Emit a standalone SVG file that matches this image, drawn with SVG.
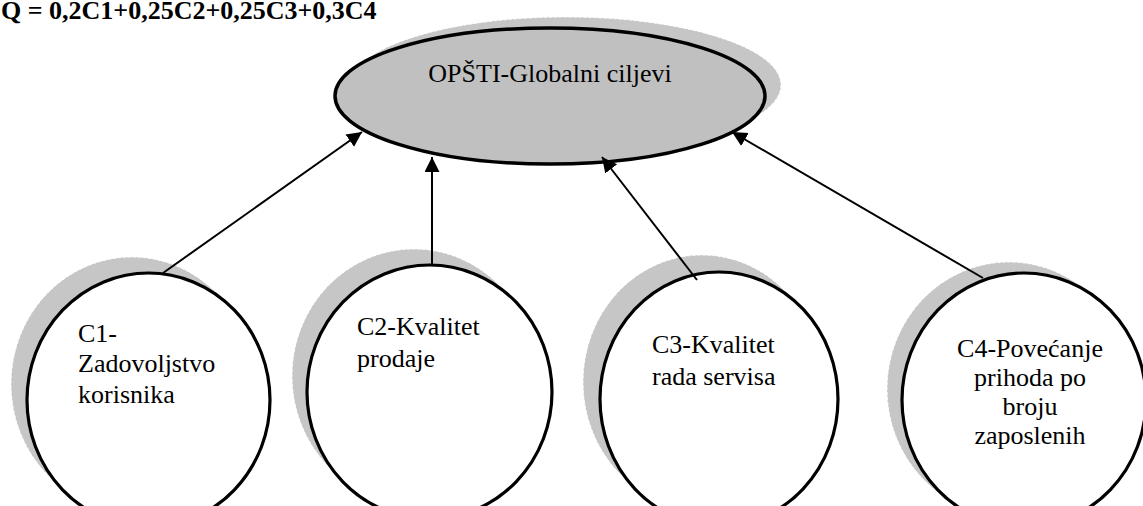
<svg xmlns="http://www.w3.org/2000/svg" width="1143" height="506" viewBox="0 0 1143 506">
<style>
text{font-family:'Liberation Serif','Times New Roman','DejaVu Serif',serif;font-size:26px;fill:#000}
.q{font-weight:bold}
.sh{fill:#c6c6c6;stroke:#ffffff;stroke-width:1;stroke-dasharray:3 2}
.node{fill:#ffffff;stroke:#000;stroke-width:3.2}
.main{fill:#c0c0c0;stroke:#000;stroke-width:3.5}
.con{stroke:#000;stroke-width:2;fill:none}
</style>
<defs>
<marker id="ah" markerUnits="userSpaceOnUse" markerWidth="16" markerHeight="16" refX="15" refY="7.5" orient="auto">
<path d="M0,0 L15,7.5 L0,15 z" fill="#000"/>
</marker>
</defs>
<text class="q" x="1" y="19" font-family="Liberation Serif, Times New Roman, serif" font-weight="bold">Q = 0,2C1+0,25C2+0,25C3+0,3C4</text>
<g id="global">
<ellipse class="sh" cx="566" cy="85" rx="215" ry="68"/>
<ellipse class="main" cx="550" cy="96" rx="215" ry="68"/>
<text x="550" y="82" text-anchor="middle" font-family="Liberation Serif, Times New Roman, serif">OPŠTI-Globalni ciljevi</text>
</g>
<g id="c1" font-family="Liberation Serif, Times New Roman, serif">
<ellipse class="sh" cx="132" cy="384" rx="121" ry="127"/>
<ellipse class="node" cx="148.5" cy="400" rx="121.5" ry="127"/>
<text x="78" y="342">C1-</text>
<text x="78" y="372">Zadovoljstvo</text>
<text x="78" y="403">korisnika</text>
</g>
<g id="c2" font-family="Liberation Serif, Times New Roman, serif">
<ellipse class="sh" cx="414" cy="376" rx="122" ry="127"/>
<ellipse class="node" cx="429.5" cy="392" rx="122.5" ry="127"/>
<text x="357" y="335">C2-Kvalitet</text>
<text x="357" y="367">prodaje</text>
</g>
<g id="c3" font-family="Liberation Serif, Times New Roman, serif">
<ellipse class="sh" cx="702" cy="382" rx="119" ry="127"/>
<ellipse class="node" cx="719" cy="399" rx="119" ry="127"/>
<text x="652" y="353">C3-Kvalitet</text>
<text x="652" y="385">rada servisa</text>
</g>
<g id="c4" font-family="Liberation Serif, Times New Roman, serif">
<ellipse class="sh" cx="1009" cy="389" rx="122" ry="127"/>
<ellipse class="node" cx="1024" cy="400" rx="122" ry="127"/>
<text x="1030" y="357" text-anchor="middle">C4-Povećanje</text>
<text x="1030" y="386" text-anchor="middle">prihoda po</text>
<text x="1030" y="415" text-anchor="middle">broju</text>
<text x="1030" y="444" text-anchor="middle">zaposlenih</text>
</g>
<g id="connectors">
<line class="con" x1="163" y1="273" x2="362" y2="132" marker-end="url(#ah)"/>
<line class="con" x1="432" y1="266" x2="432" y2="157" marker-end="url(#ah)"/>
<line class="con" x1="697" y1="280" x2="602" y2="157" marker-end="url(#ah)"/>
<line class="con" x1="983" y1="278" x2="732" y2="132" marker-end="url(#ah)"/>
</g>
</svg>
